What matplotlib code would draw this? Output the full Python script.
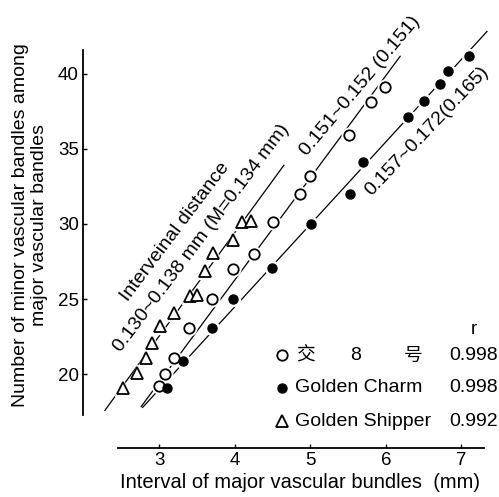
"""Vascular bundle interval vs. number of minor bundles, three cultivars."""

import matplotlib
matplotlib.use("Agg")
import matplotlib.pyplot as plt

# Golden Shipper (open triangles)
shipper_x = [2.52, 2.70, 2.83, 2.90, 3.01, 3.19, 3.41, 3.50, 3.60, 3.71, 3.97, 4.10, 4.21]
shipper_y = [19.1, 20.1, 21.1, 22.1, 23.2, 24.1, 25.2, 25.3, 26.9, 28.1, 28.9, 30.1, 30.2]

# 交8号 (open circles)
jiao_x = [3.00, 3.08, 3.19, 3.40, 3.70, 3.97, 4.25, 4.50, 4.87, 4.99, 5.51, 5.81, 5.99]
jiao_y = [19.2, 20.0, 21.1, 23.1, 25.0, 27.0, 28.0, 30.1, 32.0, 33.2, 35.9, 38.1, 39.1]

# Golden Charm (filled circles)
charm_x = [3.10, 3.31, 3.70, 3.98, 4.49, 5.01, 5.52, 5.70, 6.30, 6.51, 6.72, 6.83, 7.10]
charm_y = [19.1, 20.9, 23.1, 25.0, 27.1, 30.0, 32.0, 34.1, 37.1, 38.2, 39.3, 40.2, 41.2]

# regression line end points
shipper_line_x = [2.28, 4.65]
shipper_line_y = [17.6, 33.9]
jiao_line_x = [2.76, 6.19]
jiao_line_y = [17.85, 41.15]
charm_line_x = [2.78, 7.34]
charm_line_y = [17.8, 42.8]

r_values = ["0.998", "0.998", "0.992"]

FONT = ["Liberation Sans", "Noto Sans CJK SC", "DejaVu Sans"]
plt.rcParams["font.family"] = FONT

fig = plt.figure(figsize=(4.99, 4.97), dpi=100)
ax = fig.add_axes([0.1663, 0.0986, 0.8036, 0.8048])
ax.set_xlim(1.99, 7.30)
ax.set_ylim(15.1, 41.7)

for lx, ly in [(shipper_line_x, shipper_line_y), (jiao_line_x, jiao_line_y),
               (charm_line_x, charm_line_y)]:
    ax.plot(lx, ly, color="black", lw=0.9, clip_on=False, zorder=1)

# white halos break the lines around each marker
ax.plot(shipper_x, shipper_y, "^", ms=11, color="white", mec="white", zorder=2, clip_on=False)
ax.plot(jiao_x, jiao_y, "o", ms=10.5, color="white", mec="white", zorder=2, clip_on=False)
ax.plot(charm_x, charm_y, "o", ms=10, color="white", mec="white", zorder=2, clip_on=False)

ax.plot(shipper_x, shipper_y, "^", ms=8, mfc="white", mec="black", mew=1.3, zorder=3, clip_on=False)
ax.plot(jiao_x, jiao_y, "o", ms=7.5, mfc="white", mec="black", mew=1.3, zorder=3, clip_on=False)
ax.plot(charm_x, charm_y, "o", ms=6.5, mfc="black", mec="black", zorder=4, clip_on=False)

for side in ["top", "right"]:
    ax.spines[side].set_visible(False)
ax.spines["bottom"].set_bounds(2.46, 7.30)
ax.spines["left"].set_bounds(17.3, 41.6)
ax.spines["bottom"].set_linewidth(1.3)
ax.spines["left"].set_linewidth(1.3)

ax.set_xticks([3, 4, 5, 6, 7])
ax.set_yticks([20, 25, 30, 35, 40])
ax.tick_params(direction="in", length=3, width=1, labelsize=13.5, pad=3)

# rotated annotations along the lines
ann = dict(ha="center", va="center", rotation_mode="anchor", fontsize=14)
ax.text(3.21, 29.5, "Interveinal distance", rotation=53, **ann)
ax.text(3.56, 29.05, "0.130~0.138 mm (M=0.134 mm)", rotation=53, **ann)
ax.text(5.66, 39.2, "0.151~0.152 (0.151)", rotation=50, **ann)
ax.text(6.54, 36.2, "0.157~0.172(0.165)", rotation=46.5, **ann)

# legend block
leg_x = 4.63
rows_y = [21.28, 19.09, 16.89]
ax.plot([leg_x], [rows_y[0]], "o", ms=7.5, mfc="white", mec="black", mew=1.3, clip_on=False)
ax.plot([leg_x], [rows_y[1]], "o", ms=6.5, color="black", clip_on=False)
ax.plot([leg_x], [rows_y[2]], "^", ms=8, mfc="white", mec="black", mew=1.3, clip_on=False)
ax.text(7.16, 22.95, "r", ha="center", va="center", fontsize=13.5)
ax.text(4.93, rows_y[0], "交", ha="center", va="center", fontsize=13.5,
        family=["Noto Sans CJK SC"])
ax.text(5.60, rows_y[0], "8", ha="center", va="center", fontsize=14)
ax.text(6.36, rows_y[0], "号", ha="center", va="center", fontsize=13.5,
        family=["Noto Sans CJK SC"])
ax.text(4.80, rows_y[1], "Golden Charm", ha="left", va="center", fontsize=14)
ax.text(4.80, rows_y[2], "Golden Shipper", ha="left", va="center", fontsize=14)
for ry, rv in zip(rows_y, r_values):
    ax.text(7.48, ry, rv, ha="right", va="center", fontsize=14)

fig.text(300 / 499, 1 - 483 / 497, "Interval of major vascular bundles  (mm)",
         ha="center", va="center", fontsize=14.5)
fig.text(30 / 499, 1 - 225 / 497,
         "Number of minor vascular bandles among\nmajor vascular bandles",
         ha="center", va="center", rotation=90, fontsize=14, linespacing=1.1)

fig.savefig("out.png", dpi=100)
